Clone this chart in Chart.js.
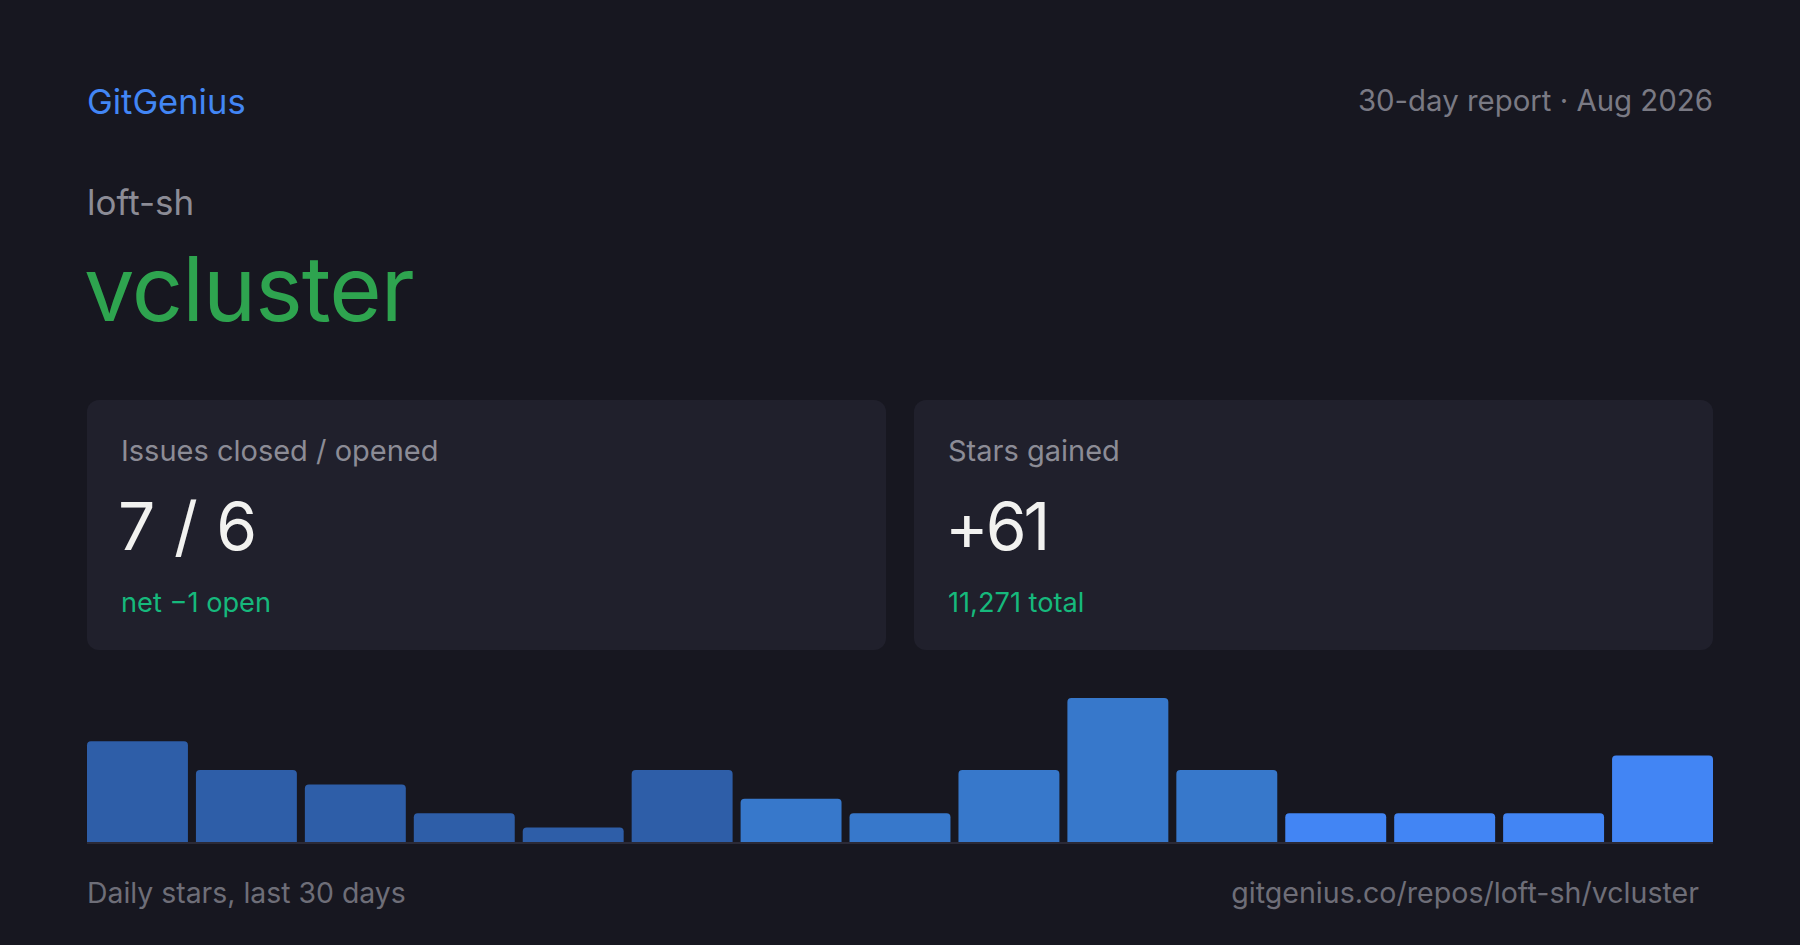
<!DOCTYPE html>
<html>
<head>
<meta charset="utf-8">
<script src="https://cdn.jsdelivr.net/npm/chart.js@4/dist/chart.umd.min.js"></script>
<style>
  html, body { margin: 0; padding: 0; }
  body {
    width: 1800px; height: 945px; position: relative; overflow: hidden;
    background: #171720; font-family: Inter, "Noto Sans", sans-serif;
  }
  .t { position: absolute; line-height: 1; white-space: nowrap; }
  .card { position: absolute; top: 400px; height: 250px; width: 799px; background: #20202c; border-radius: 12px; }
  #chartBox { position: absolute; left: 83px; top: 698px; width: 1634px; height: 144px; }
  #baseline { position: absolute; left: 87px; top: 842px; width: 1626px; height: 2px; background: #2b2a37; }
</style>
</head>
<body>
  <div class="t" style="left:87px; top:85px; font-size:34.5px; color:#4286f5;">GitGenius</div>
  <div class="t" style="right:87px; top:86px; font-size:29.4px; color:#7a7a84;">30-day report · Aug 2026</div>
  <div class="t" style="left:87px; top:185px; font-size:35px; color:#8c8c96;">loft-sh</div>
  <div class="t" style="left:84px; top:244px; font-size:90px; letter-spacing:-1px; color:#2ea44f;">vcluster</div>

  <div class="card" style="left:87px;"></div>
  <div class="card" style="left:914px;"></div>
  <div class="t" style="left:121px; top:436px; font-size:29px; color:#8c8c96;">Issues closed / opened</div>
  <div class="t" style="left:118px; top:493px; font-size:66px; color:#f2f2f0;">7 / 6</div>
  <div class="t" style="left:121px; top:589px; font-size:27.2px; color:#16b97c;">net −1 open</div>
  <div class="t" style="left:948px; top:436px; font-size:29px; color:#8c8c96;">Stars gained</div>
  <div class="t" style="left:945px; top:493px; font-size:66px; letter-spacing:-3px; color:#f2f2f0;">+61</div>
  <div class="t" style="left:948px; top:589px; font-size:27.2px; color:#16b97c;">11,271 total</div>

  <div id="chartBox"><canvas id="starsChart"></canvas></div>
  <div id="baseline"></div>

  <div class="t" style="left:87px; top:879px; font-size:28.4px; color:#6e6e78;">Daily stars, last 30 days</div>
  <div class="t" style="right:101px; top:879px; font-size:28.6px; color:#6e6e78;">gitgenius.co/repos/loft-sh/vcluster</div>

<script>
// two-day buckets over the last 30 days
const periods = [
  "Days 1–2", "Days 3–4", "Days 5–6", "Days 7–8", "Days 9–10",
  "Days 11–12", "Days 13–14", "Days 15–16", "Days 17–18", "Days 19–20",
  "Days 21–22", "Days 23–24", "Days 25–26", "Days 27–28", "Days 29–30"
];
const stars = [7, 5, 4, 2, 1, 5, 3, 2, 5, 10, 5, 2, 2, 2, 6];
const yMax = 10;

// older buckets are drawn darker
const barColors = [
  "#2e5ea8", "#2e5ea8", "#2e5ea8", "#2e5ea8", "#2e5ea8", "#2e5ea8",
  "#3778cb", "#3778cb", "#3778cb", "#3778cb", "#3778cb",
  "#4285f4", "#4285f4", "#4285f4", "#4285f4"
];

document.addEventListener("DOMContentLoaded", () => {
  const ctx = document.getElementById("starsChart").getContext("2d");

  new Chart(ctx, {
    type: "bar",
    data: {
      labels: periods,
      datasets: [{
        label: "Stars",
        data: stars,
        backgroundColor: barColors,
        borderRadius: { topLeft: 4, topRight: 4 },
        borderSkipped: "start",
        categoryPercentage: 1,
        barPercentage: 0.9266
      }]
    },
    options: {
      responsive: true,
      maintainAspectRatio: false,
      animation: false,
      layout: { padding: 0 },
      plugins: {
        legend: { display: false },
        tooltip: { enabled: false }
      },
      scales: {
        x: { display: false },
        y: { display: false, min: 0, max: yMax }
      }
    }
  });
});
</script>
</body>
</html>
